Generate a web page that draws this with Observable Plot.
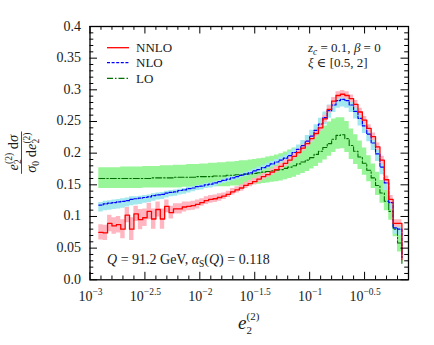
<!DOCTYPE html>
<html>
<head>
<meta charset="utf-8">
<script src="https://cdn.jsdelivr.net/npm/d3@7"></script>
<script src="https://cdn.jsdelivr.net/npm/@observablehq/plot@0.6"></script>
<style>
  html, body { margin: 0; padding: 0; background: #fff; overflow: hidden; }
</style>
</head>
<body>
<script>
// ---------- data ----------
// log10 of the bin edges of e2^(2)
const logEdges = [-2.92,-2.88,-2.84,-2.80,-2.76,-2.72,-2.68,-2.64,-2.60,-2.56,-2.52,-2.48,-2.44,-2.40,-2.36,-2.32,-2.28,-2.24,-2.20,-2.16,-2.12,-2.08,-2.04,-2.00,-1.96,-1.92,-1.88,-1.84,-1.80,-1.76,-1.72,-1.68,-1.64,-1.60,-1.56,-1.52,-1.48,-1.44,-1.40,-1.36,-1.32,-1.28,-1.24,-1.20,-1.16,-1.12,-1.08,-1.04,-1.00,-0.96,-0.92,-0.88,-0.84,-0.80,-0.76,-0.72,-0.68,-0.64,-0.60,-0.56,-0.52,-0.48,-0.44,-0.40,-0.36,-0.32,-0.28,-0.24,-0.20,-0.16];

const nnlo = [0.075,0.074,0.089,0.085,0.087,0.080,0.102,0.080,0.104,0.095,0.098,0.108,0.096,0.111,0.096,0.116,0.106,0.112,0.112,0.115,0.116,0.117,0.119,0.122,0.125,0.127,0.128,0.130,0.132,0.135,0.139,0.142,0.145,0.149,0.152,0.155,0.159,0.163,0.166,0.170,0.174,0.179,0.184,0.189,0.195,0.201,0.208,0.215,0.223,0.231,0.240,0.254,0.269,0.282,0.291,0.293,0.291,0.286,0.277,0.265,0.252,0.239,0.226,0.210,0.189,0.158,0.127,0.089,0.089];
const nnloLo = [0.063,0.062,0.076,0.072,0.074,0.065,0.090,0.062,0.092,0.079,0.084,0.095,0.080,0.099,0.080,0.106,0.096,0.104,0.104,0.107,0.109,0.110,0.112,0.116,0.119,0.121,0.122,0.124,0.127,0.130,0.134,0.137,0.140,0.144,0.147,0.150,0.154,0.158,0.161,0.165,0.169,0.174,0.179,0.184,0.190,0.196,0.203,0.210,0.218,0.226,0.234,0.248,0.263,0.276,0.285,0.287,0.285,0.280,0.271,0.259,0.246,0.233,0.220,0.204,0.183,0.152,0.121,0.083,0.083];
const nnloHi = [0.087,0.086,0.102,0.098,0.100,0.095,0.114,0.098,0.116,0.111,0.112,0.121,0.112,0.123,0.112,0.126,0.116,0.120,0.120,0.123,0.123,0.124,0.126,0.128,0.131,0.133,0.134,0.136,0.137,0.140,0.144,0.147,0.150,0.154,0.157,0.160,0.164,0.168,0.171,0.175,0.179,0.184,0.189,0.194,0.200,0.206,0.213,0.220,0.228,0.236,0.246,0.260,0.275,0.288,0.297,0.299,0.297,0.292,0.283,0.271,0.258,0.245,0.232,0.216,0.195,0.164,0.133,0.095,0.095];
const nnloEnd = 0.032;

const nlo = [0.118,0.120,0.121,0.122,0.123,0.124,0.125,0.127,0.128,0.129,0.130,0.131,0.133,0.134,0.135,0.137,0.138,0.139,0.141,0.142,0.144,0.145,0.147,0.148,0.150,0.151,0.153,0.155,0.157,0.159,0.161,0.163,0.165,0.167,0.169,0.172,0.174,0.177,0.180,0.183,0.186,0.189,0.192,0.196,0.201,0.206,0.212,0.219,0.227,0.236,0.246,0.256,0.267,0.276,0.283,0.285,0.283,0.276,0.266,0.255,0.243,0.230,0.216,0.199,0.178,0.153,0.122,0.082,0.080];
const nloLo = [0.107,0.109,0.110,0.111,0.112,0.113,0.115,0.117,0.118,0.119,0.121,0.122,0.124,0.126,0.127,0.129,0.131,0.132,0.134,0.135,0.137,0.139,0.141,0.142,0.144,0.145,0.147,0.150,0.152,0.154,0.156,0.158,0.161,0.163,0.165,0.168,0.170,0.173,0.176,0.178,0.181,0.184,0.187,0.190,0.194,0.199,0.204,0.210,0.217,0.225,0.235,0.245,0.255,0.264,0.271,0.273,0.271,0.264,0.254,0.243,0.231,0.218,0.204,0.187,0.166,0.141,0.111,0.072,0.070];
const nloHi = [0.122,0.124,0.125,0.126,0.127,0.128,0.129,0.131,0.131,0.132,0.133,0.134,0.136,0.137,0.138,0.140,0.141,0.142,0.143,0.144,0.146,0.147,0.149,0.150,0.152,0.153,0.155,0.157,0.159,0.161,0.163,0.166,0.168,0.170,0.172,0.175,0.178,0.181,0.184,0.187,0.190,0.194,0.197,0.202,0.207,0.213,0.220,0.228,0.236,0.245,0.255,0.265,0.276,0.285,0.292,0.294,0.292,0.285,0.275,0.264,0.252,0.239,0.225,0.208,0.187,0.162,0.130,0.090,0.088];
const nloEnd = 0.035;

const lo = [0.160,0.160,0.160,0.160,0.160,0.160,0.160,0.160,0.160,0.160,0.160,0.160,0.161,0.161,0.161,0.161,0.161,0.162,0.162,0.162,0.162,0.162,0.163,0.163,0.163,0.163,0.164,0.164,0.164,0.165,0.165,0.166,0.166,0.167,0.167,0.168,0.169,0.170,0.171,0.172,0.173,0.174,0.176,0.178,0.180,0.183,0.186,0.189,0.193,0.198,0.203,0.209,0.215,0.222,0.228,0.229,0.223,0.212,0.203,0.194,0.184,0.173,0.161,0.149,0.137,0.124,0.108,0.080,0.058];
const loLo = [0.144,0.144,0.144,0.144,0.144,0.144,0.144,0.144,0.144,0.144,0.145,0.145,0.145,0.145,0.145,0.145,0.145,0.145,0.145,0.146,0.146,0.146,0.146,0.146,0.146,0.146,0.147,0.147,0.147,0.147,0.148,0.148,0.148,0.149,0.149,0.150,0.151,0.152,0.153,0.154,0.155,0.156,0.158,0.160,0.162,0.165,0.168,0.171,0.175,0.179,0.184,0.189,0.195,0.201,0.206,0.207,0.201,0.190,0.182,0.174,0.165,0.155,0.144,0.133,0.121,0.109,0.094,0.068,0.044];
const loHi = [0.177,0.177,0.177,0.177,0.177,0.178,0.178,0.178,0.178,0.178,0.179,0.179,0.179,0.179,0.180,0.180,0.180,0.181,0.181,0.181,0.182,0.182,0.182,0.183,0.183,0.184,0.184,0.185,0.185,0.186,0.186,0.187,0.188,0.188,0.189,0.190,0.191,0.192,0.194,0.195,0.197,0.199,0.202,0.205,0.208,0.212,0.216,0.220,0.225,0.231,0.237,0.243,0.249,0.254,0.256,0.256,0.250,0.238,0.229,0.219,0.208,0.196,0.183,0.170,0.157,0.142,0.124,0.094,0.071];
const loEnd = 0.026;

// axis ticks and labels
const xMajorLog = [-3, -2.5, -2, -1.5, -1, -0.5];
const xTickExp = ["\u22123", "\u22122.5", "\u22122", "\u22121.5", "\u22121", "\u22120.5"];
const yMajor = [0, 0.05, 0.1, 0.15, 0.2, 0.25, 0.3, 0.35, 0.4];
const yTickLabels = ["0.0", "0.05", "0.1", "0.15", "0.2", "0.25", "0.3", "0.35", "0.4"];
const seriesNames = ["NNLO", "NLO", "LO"];

// ---------- styles ----------
const W = 434, H = 345, mL = 89.5, mR = 26, mT = 26, mB = 65.7;
const innerW = W - mL - mR, innerH = H - mT - mB;
const FONT = "'Liberation Serif', 'DejaVu Serif', serif";
const TXT = "#1a1a1a";
const colNNLO = "#ff0000", bandNNLO = "#ffb6c1";
const colNLO = "#0000ff", bandNLO = "#a4e8ef";
const colLO = "#006f00", bandLO = "#98f598";
const dashNLO = "3,1.6", dashLO = "6,2,1.5,2";

// ---------- build rows ----------
function stepRows(vals, endVal) {
  const r = vals.map((v, i) => ({x: 10 ** logEdges[i], y: v}));
  r.push({x: 10 ** logEdges[vals.length], y: endVal});
  return r;
}
function bandRows(l, h) {
  const r = l.map((v, i) => ({x: 10 ** logEdges[i], lo: v, hi: h[i]}));
  r.push({x: 10 ** logEdges[l.length], lo: l[l.length - 1], hi: h[h.length - 1]});
  return r;
}

const xMajor = xMajorLog.map(L => 10 ** L);
const xMinor = d3.range(-3, -0.05, 0.1).filter(L => Math.round(L * 10) % 5 !== 0).map(L => 10 ** L);
const yMinor = d3.range(0, 0.4001, 0.01).filter(v => Math.round(v * 100) % 5 !== 0);

const majLen = 7.5, minLen = 3.8;

const chart = Plot.plot({
  width: W, height: H,
  marginLeft: mL, marginRight: mR, marginTop: mT, marginBottom: mB,
  style: {background: "#fff", fontFamily: FONT, maxWidth: "none"},
  x: {type: "log", domain: [1e-3, 10 ** -0.1], axis: null},
  y: {domain: [0, 0.4], axis: null},
  marks: [
    Plot.areaY(bandRows(loLo, loHi), {x: "x", y1: "lo", y2: "hi", curve: "step-after", fill: bandLO}),
    Plot.areaY(bandRows(nloLo, nloHi), {x: "x", y1: "lo", y2: "hi", curve: "step-after", fill: bandNLO}),
    Plot.areaY(bandRows(nnloLo, nnloHi), {x: "x", y1: "lo", y2: "hi", curve: "step-after", fill: bandNNLO}),
    Plot.line(stepRows(lo, loEnd), {x: "x", y: "y", curve: "step-after", stroke: colLO, strokeWidth: 1.1, strokeDasharray: dashLO}),
    Plot.line(stepRows(nlo, nloEnd), {x: "x", y: "y", curve: "step-after", stroke: colNLO, strokeWidth: 1.2, strokeDasharray: dashNLO}),
    Plot.line(stepRows(nnlo, nnloEnd), {x: "x", y: "y", curve: "step-after", stroke: colNNLO, strokeWidth: 1.3}),
    // ticks, inward on all four sides
    Plot.ruleX(xMajor, {x: d => d, insetTop: innerH - majLen, stroke: "black", strokeWidth: 1}),
    Plot.ruleX(xMajor, {x: d => d, insetBottom: innerH - majLen, stroke: "black", strokeWidth: 1}),
    Plot.ruleX(xMinor, {x: d => d, insetTop: innerH - minLen, stroke: "black", strokeWidth: 1}),
    Plot.ruleX(xMinor, {x: d => d, insetBottom: innerH - minLen, stroke: "black", strokeWidth: 1}),
    Plot.ruleY(yMajor, {y: d => d, insetRight: innerW - majLen, stroke: "black", strokeWidth: 1}),
    Plot.ruleY(yMajor, {y: d => d, insetLeft: innerW - majLen, stroke: "black", strokeWidth: 1}),
    Plot.ruleY(yMinor, {y: d => d, insetRight: innerW - minLen, stroke: "black", strokeWidth: 1}),
    Plot.ruleY(yMinor, {y: d => d, insetLeft: innerW - minLen, stroke: "black", strokeWidth: 1}),
    Plot.frame({stroke: "black", strokeWidth: 1.3})
  ]
});
document.body.appendChild(chart);

const xs = chart.scale("x"), ys = chart.scale("y");
const svg = d3.select(chart);

// helper: text runs with sub/superscripts; stack:true puts a run under the previous one
function mathText(parent, runs, {x = 0, y = 0, anchor = "start", fill = TXT} = {}) {
  const g = parent.append("g").attr("fill", fill).attr("font-family", FONT).attr("text-anchor", "start");
  let cx = 0, prevStart = 0;
  for (const r of runs) {
    const start = r.stack ? prevStart : cx;
    const t = g.append("text")
      .attr("x", start).attr("y", r.shift || 0)
      .attr("text-anchor", "start")
      .attr("font-size", r.size)
      .attr("font-style", r.italic ? "italic" : "normal")
      .style("white-space", "pre")
      .text(r.text);
    const w = t.node().getComputedTextLength();
    if (r.stack) cx = Math.max(cx, start + w);
    else { prevStart = start; cx = start + w; }
  }
  const off = anchor === "middle" ? cx / 2 : anchor === "end" ? cx : 0;
  g.attr("transform", `translate(${x - off},${y})`);
  return {g, width: cx};
}

const left = xs.apply(1e-3);

// y tick labels
yMajor.forEach((v, i) => {
  svg.append("text")
    .attr("x", left - 8.5).attr("y", ys.apply(v) + 4.5)
    .attr("text-anchor", "end").attr("font-family", FONT).attr("font-size", 14)
    .attr("fill", TXT).text(yTickLabels[i]);
});

// x tick labels 10^k
const bottom = ys.apply(0);
xMajor.forEach((v, i) => {
  mathText(svg, [
    {text: "10", size: 14},
    {text: xTickExp[i], size: 9.5, shift: -6.5}
  ], {x: xs.apply(v) + 1, y: bottom + 22, anchor: "middle"});
});

// x axis title e_2^(2)
const xMid = (xs.apply(1e-3) + xs.apply(10 ** -0.1)) / 2;
mathText(svg, [
  {text: "e", size: 19, italic: true},
  {text: "(2)", size: 11, shift: -9.5},
  {text: "2", size: 11, shift: 5, stack: true}
], {x: xMid, y: bottom + 50, anchor: "middle"});

// y axis title: fraction rotated
const yMid = (ys.apply(0) + ys.apply(0.4)) / 2;
const yl = svg.append("g").attr("transform", `translate(22,${yMid}) rotate(-90)`);
const num = mathText(yl, [
  {text: "e", size: 14.5, italic: true},
  {text: "(2)", size: 9.5, shift: -6},
  {text: "2", size: 9.5, shift: 3, stack: true},
  {text: " d", size: 14.5},
  {text: "\u03c3", size: 14.5, italic: true}
], {x: 0, y: -4.5, anchor: "middle"});
const den = mathText(yl, [
  {text: "\u03c3", size: 14.5, italic: true},
  {text: "0", size: 9.5, shift: 3},
  {text: " d", size: 14.5},
  {text: "e", size: 14.5, italic: true},
  {text: "(2)", size: 9.5, shift: -6},
  {text: "2", size: 9.5, shift: 3, stack: true}
], {x: 0, y: 13.5, anchor: "middle"});
const barW = Math.max(num.width, den.width) + 2;
yl.append("line").attr("x1", -barW / 2).attr("x2", barW / 2).attr("y1", -0.5).attr("y2", -0.5)
  .attr("stroke", TXT).attr("stroke-width", 0.8);

// legend
const legY = [mT + 21.7, mT + 36.7, mT + 52.3];
const legCol = [colNNLO, colNLO, colLO];
const legDash = [null, dashNLO, dashLO];
seriesNames.forEach((name, i) => {
  svg.append("line").attr("x1", mL + 17.5).attr("x2", mL + 39.5)
    .attr("y1", legY[i]).attr("y2", legY[i])
    .attr("stroke", legCol[i]).attr("stroke-width", 1.3)
    .attr("stroke-dasharray", legDash[i]);
  svg.append("text").attr("x", mL + 46.5).attr("y", legY[i] + 4.4)
    .attr("text-anchor", "start")
    .attr("font-family", FONT).attr("font-size", 13).attr("fill", TXT).text(name);
});

// annotations top right
mathText(svg, [
  {text: "z", size: 13, italic: true},
  {text: "c", size: 9.5, italic: true, shift: 2.5},
  {text: " = 0.1, ", size: 13},
  {text: "\u03b2", size: 13, italic: true},
  {text: " = 0", size: 13}
], {x: 308, y: 52});
mathText(svg, [
  {text: "\u03be", size: 13, italic: true},
  {text: " \u2208 [0.5, 2]", size: 13}
], {x: 308, y: 67});

// annotation bottom
mathText(svg, [
  {text: "Q", size: 14, italic: true},
  {text: " = 91.2 GeV, ", size: 14},
  {text: "\u03b1", size: 14, italic: true},
  {text: "S", size: 9.5, shift: 2.5},
  {text: "(", size: 14},
  {text: "Q", size: 14, italic: true},
  {text: ") = 0.118", size: 14}
], {x: 107, y: 264});
</script>
</body>
</html>
